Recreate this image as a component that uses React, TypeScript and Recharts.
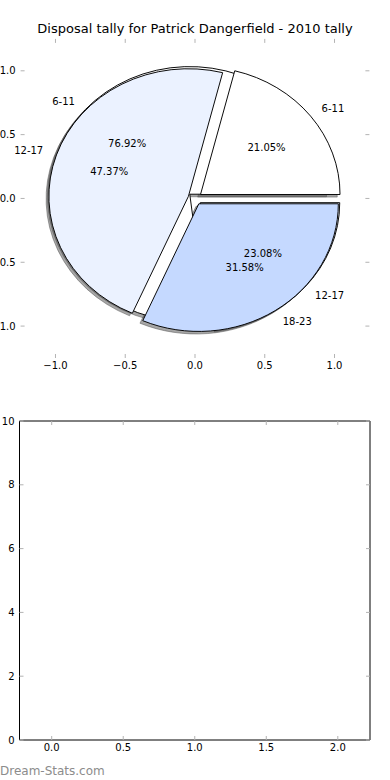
import React from "react";
import {
  PieChart,
  Pie,
  Cell,
  Sector,
  ScatterChart,
  Scatter,
  XAxis,
  YAxis,
} from "recharts";

const TITLE = "Disposal tally for Patrick Dangerfield - 2010 tally";
const WATERMARK = "Dream-Stats.com";

// first tally, drawn underneath
const CATEGORIES_A = ["6-11", "12-17"];
const GAMES_A = [10, 3];
// second tally, drawn on top
const CATEGORIES_B = ["6-11", "12-17", "18-23"];
const GAMES_B = [4, 9, 6];

const PIE_DOMAIN = [-1.25, 1.25];
const PIE_TICKS = [-1, -0.5, 0, 0.5, 1];

const EMPTY_X_DOMAIN = [-0.225, 2.225];
const EMPTY_Y_DOMAIN = [0, 10];
const EMPTY_X_TICKS = [0, 0.5, 1, 1.5, 2];
const EMPTY_Y_TICKS = [0, 2, 4, 6, 8, 10];
const emptyPoints: { x: number; y: number }[] = [];

const SLICE_COLORS = ["#ffffff", "#ebf2ff", "#c5d9ff"];
const SHADOW = "#4d4d4d";
const TICK_GREY = "#b3b3b3";
const FONT = "'DejaVu Sans', sans-serif";

// layout of the two panels (page is 390 wide, each panel 390 tall)
const W = 390;
const H = 390;
const TOP_M = { top: 38.9, right: 20.6, bottom: 32, left: 20.6 };
const BOT_M = { top: 31, right: 20, bottom: 40, left: 19.5 };
const TICK_LEN = 4;
const AX = 1; // thickness reserved by each axis, taken back out of the margin

const UNIT_X = (W - TOP_M.left - TOP_M.right) / (PIE_DOMAIN[1] - PIE_DOMAIN[0]);
const UNIT_Y = (H - TOP_M.top - TOP_M.bottom) / (PIE_DOMAIN[1] - PIE_DOMAIN[0]);
const CX = TOP_M.left + (0 - PIE_DOMAIN[0]) * UNIT_X;
const CY = TOP_M.top + (PIE_DOMAIN[1] - 0) * UNIT_Y;
const RADIUS = UNIT_X;
const SY = UNIT_Y / UNIT_X;
const EXPLODE = 0.05;
const SHADOW_DX = -0.02 * UNIT_X;
const SHADOW_DY = 0.02 * UNIT_Y;

const dataA = CATEGORIES_A.map((name, i) => ({ name, value: GAMES_A[i] }));
const dataB = CATEGORIES_B.map((name, i) => ({ name, value: GAMES_B[i] }));

function fmt1(v: number) {
  return (v < 0 ? "\u2212" : "") + Math.abs(v).toFixed(1);
}

function makeWedge(shadow: boolean) {
  return (p: any) => {
    const mid = (((p.startAngle + p.endAngle) / 2) * Math.PI) / 180;
    const ox = EXPLODE * p.outerRadius * Math.cos(mid);
    const oy = -EXPLODE * p.outerRadius * Math.sin(mid);
    const tf = `translate(${shadow ? SHADOW_DX : 0} ${(shadow ? SHADOW_DY : 0) + p.cy}) scale(1 ${SY}) translate(0 ${-p.cy})`;
    return (
      <g transform={tf}>
        <Sector
          cx={p.cx + ox}
          cy={p.cy + oy}
          innerRadius={0}
          outerRadius={p.outerRadius}
          startAngle={p.startAngle}
          endAngle={p.endAngle}
          fill={shadow ? SHADOW : p.fill}
          fillOpacity={shadow ? 0.5 : 1}
          stroke={shadow ? SHADOW : "#000"}
          strokeOpacity={shadow ? 0.5 : 1}
          strokeWidth={1}
        />
      </g>
    );
  };
}

const wedge = makeWedge(false);
const shadowWedge = makeWedge(true);

function sliceLabel(p: any) {
  const mid = (p.midAngle * Math.PI) / 180;
  const ux = Math.cos(mid);
  const uy = Math.sin(mid);
  const at = (f: number) => ({
    x: p.cx + (EXPLODE + f) * p.outerRadius * ux,
    y: p.cy - (EXPLODE + f) * p.outerRadius * uy * SY,
  });
  const n = at(1.1);
  const c = at(0.6);
  const name = p.payload?.name ?? p.name;
  return (
    <g>
      <text x={n.x} y={n.y} textAnchor={ux > 0 ? "start" : "end"} dominantBaseline="central" fontSize={10} fontFamily={FONT} fill="#000">
        {name}
      </text>
      <text x={c.x} y={c.y} textAnchor="middle" dominantBaseline="central" fontSize={10} fontFamily={FONT} fill="#000">
        {(p.percent * 100).toFixed(2) + "%"}
      </text>
    </g>
  );
}

// tick marks point inward, labels only on bottom / left
function makeTick(side: "bottom" | "top" | "left" | "right", format?: (v: number) => string) {
  return (props: any) => {
    const { x, y, payload } = props;
    if (side === "bottom" || side === "top") {
      const dir = side === "bottom" ? -1 : 1;
      return (
        <g>
          <line x1={x} x2={x} y1={y} y2={y + dir * TICK_LEN} stroke={TICK_GREY} strokeWidth={1} />
          {format ? (
            <text x={x} y={y + 11} textAnchor="middle" fontSize={10} fontFamily={FONT} fill="#000">
              {format(payload.value)}
            </text>
          ) : null}
        </g>
      );
    }
    const dir = side === "left" ? 1 : -1;
    return (
      <g>
        <line x1={x} x2={x + dir * TICK_LEN} y1={y} y2={y} stroke={TICK_GREY} strokeWidth={1} />
        {format ? (
          <text x={x - 5} y={y} textAnchor="end" dominantBaseline="central" fontSize={10} fontFamily={FONT} fill="#000">
            {format(payload.value)}
          </text>
        ) : null}
      </g>
    );
  };
}

function Frame({
  margin,
  xDomain,
  yDomain,
  xTicks,
  yTicks,
  xFormat,
  yFormat,
  spines,
}: {
  margin: typeof TOP_M;
  xDomain: number[];
  yDomain: number[];
  xTicks: number[];
  yTicks: number[];
  xFormat: (v: number) => string;
  yFormat: (v: number) => string;
  spines: boolean;
}) {
  const line = spines ? { stroke: "#000", strokeWidth: 1 } : false;
  const m = {
    top: margin.top - AX,
    right: margin.right - AX,
    bottom: margin.bottom - AX,
    left: margin.left - AX,
  };
  return (
    <ScatterChart width={W} height={H} margin={m}>
      <XAxis xAxisId="b" type="number" dataKey="x" orientation="bottom" domain={xDomain} ticks={xTicks} allowDataOverflow height={AX} tickSize={0} tickMargin={0} tickLine={false} axisLine={line} tick={makeTick("bottom", xFormat)} interval={0} />
      <XAxis xAxisId="t" type="number" dataKey="x" orientation="top" domain={xDomain} ticks={xTicks} allowDataOverflow height={AX} tickSize={0} tickMargin={0} tickLine={false} axisLine={line} tick={makeTick("top")} interval={0} />
      <YAxis yAxisId="l" type="number" dataKey="y" orientation="left" domain={yDomain} ticks={yTicks} allowDataOverflow width={AX} tickSize={0} tickMargin={0} tickLine={false} axisLine={line} tick={makeTick("left", yFormat)} interval={0} />
      <YAxis yAxisId="r" type="number" dataKey="y" orientation="right" domain={yDomain} ticks={yTicks} allowDataOverflow width={AX} tickSize={0} tickMargin={0} tickLine={false} axisLine={line} tick={makeTick("right")} interval={0} />
      <Scatter data={emptyPoints} dataKey="y" xAxisId="b" yAxisId="l" isAnimationActive={false} />
    </ScatterChart>
  );
}

export default function App() {
  const noMargin = { top: 0, right: 0, bottom: 0, left: 0 };
  const pieCommon = {
    dataKey: "value",
    nameKey: "name",
    cx: CX,
    cy: CY,
    outerRadius: RADIUS,
    startAngle: 0,
    endAngle: 360,
    isAnimationActive: false,
    labelLine: false,
  };
  return (
    <div style={{ position: "absolute", left: 0, top: 0, width: W, height: 780, background: "#fff", fontFamily: FONT }}>
      {/* pie panel */}
      <div style={{ position: "absolute", left: 0, top: 0 }}>
        <Frame margin={TOP_M} xDomain={PIE_DOMAIN} yDomain={PIE_DOMAIN} xTicks={PIE_TICKS} yTicks={PIE_TICKS} xFormat={fmt1} yFormat={fmt1} spines={false} />
      </div>
      <div style={{ position: "absolute", left: 0, top: 0 }}>
        <PieChart width={W} height={H} margin={noMargin}>
          <Pie {...pieCommon} data={dataA} shape={shadowWedge} activeShape={shadowWedge} inactiveShape={shadowWedge} label={false} />
          <Pie {...pieCommon} data={dataB} shape={shadowWedge} activeShape={shadowWedge} inactiveShape={shadowWedge} label={false} />
          <Pie {...pieCommon} data={dataA} shape={wedge} activeShape={wedge} inactiveShape={wedge} label={false}>
            {dataA.map((d, i) => (
              <Cell key={d.name} fill={SLICE_COLORS[i]} />
            ))}
          </Pie>
          <Pie {...pieCommon} data={dataB} shape={wedge} activeShape={wedge} inactiveShape={wedge} label={false}>
            {dataB.map((d, i) => (
              <Cell key={d.name} fill={SLICE_COLORS[i]} />
            ))}
          </Pie>
          <Pie {...pieCommon} data={dataA} fill="none" stroke="none" label={sliceLabel} />
          <Pie {...pieCommon} data={dataB} fill="none" stroke="none" label={sliceLabel} />
        </PieChart>
      </div>
      <svg width={W} height={40} style={{ position: "absolute", left: 0, top: 0 }}>
        <text x={W / 2} y={33} textAnchor="middle" fontSize={13} fontFamily={FONT} fill="#000">
          {TITLE}
        </text>
      </svg>
      {/* empty second panel */}
      <div style={{ position: "absolute", left: 0, top: H }}>
        <Frame margin={BOT_M} xDomain={EMPTY_X_DOMAIN} yDomain={EMPTY_Y_DOMAIN} xTicks={EMPTY_X_TICKS} yTicks={EMPTY_Y_TICKS} xFormat={fmt1} yFormat={(v) => String(v)} spines={true} />
      </div>
      <svg width={W} height={20} style={{ position: "absolute", left: 0, top: 760 }}>
        <text x={0} y={14.5} fontSize={12} fontFamily={FONT} fill="#8c8c8c">
          {WATERMARK}
        </text>
      </svg>
    </div>
  );
}
